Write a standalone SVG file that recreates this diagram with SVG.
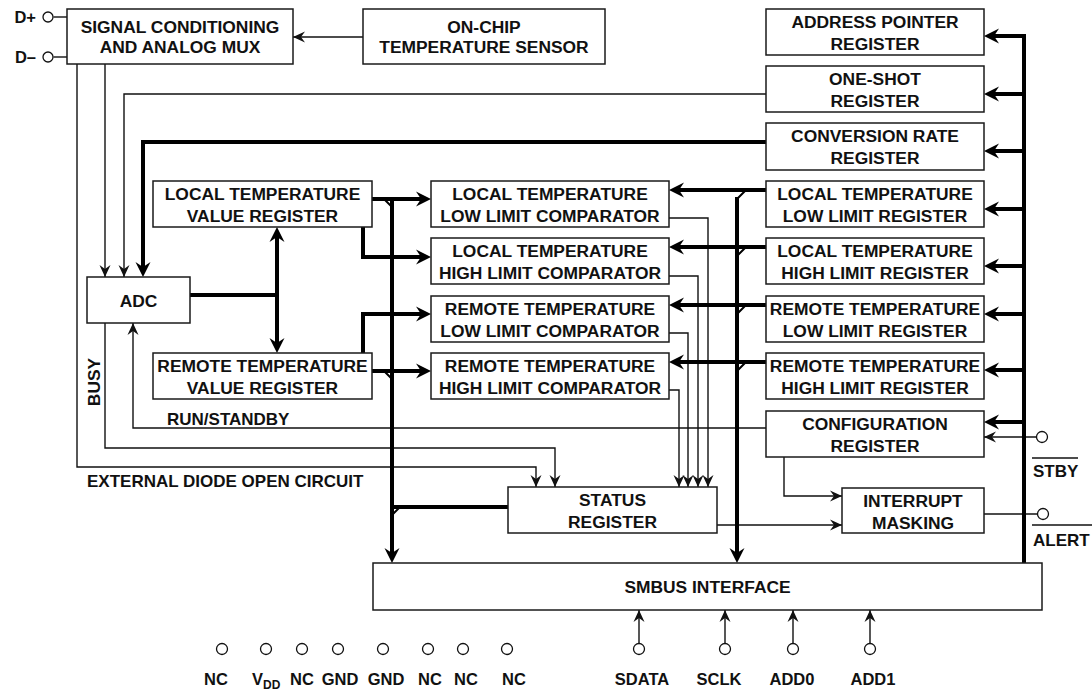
<svg xmlns="http://www.w3.org/2000/svg" width="1092" height="690" viewBox="0 0 1092 690">
<style>
.bx{fill:#fff;stroke:#1a1a1a;stroke-width:1.5}
.t{font-family:"Liberation Sans",Arial,Helvetica,sans-serif;font-weight:bold;font-size:17.4px;fill:#111;text-anchor:middle}
.lb{font-family:"Liberation Sans",Arial,Helvetica,sans-serif;font-weight:bold;font-size:16.5px;fill:#111}
.tn{fill:none;stroke:#111;stroke-width:1.4}
.tk{fill:none;stroke:#000;stroke-width:4}
.tc{fill:none;stroke:#000;stroke-width:2}
.pin{fill:#fff;stroke:#111;stroke-width:1.3}
.ov{stroke:#111;stroke-width:1.6}
</style>
<defs>
<marker id="aN" viewBox="-13 -7 14 14" refX="0" refY="0" markerWidth="14" markerHeight="14" markerUnits="userSpaceOnUse" orient="auto-start-reverse"><path d="M0,0 L-12,-5.5 L-8,0 L-12,5.5 Z" fill="#111"/></marker>
<marker id="aK" viewBox="-16 -8 17 16" refX="-6" refY="0" markerWidth="17" markerHeight="16" markerUnits="userSpaceOnUse" orient="auto-start-reverse"><path d="M0,0 L-15,-7.5 L-10,0 L-15,7.5 Z" fill="#000"/></marker>
</defs>

<g id="connectors">
<path class="tn" d="M363,37 H293" marker-end="url(#aN)"/>
<path class="tn" d="M53.5,17 H67"/>
<path class="tn" d="M53.5,57 H67"/>
<path class="tn" d="M77,64 V467 H536 V487" marker-end="url(#aN)"/>
<path class="tn" d="M105,64 V277" marker-end="url(#aN)"/>
<path class="tn" d="M766,94 H124 V277" marker-end="url(#aN)"/>
<path class="tn" d="M105,323 V448 H555 V487" marker-end="url(#aN)"/>
<path class="tn" d="M766,428 H133 V323" marker-end="url(#aN)"/>
<path class="tn" d="M669,218 H708 V487" marker-end="url(#aN)"/>
<path class="tn" d="M669,276 H698 V487" marker-end="url(#aN)"/>
<path class="tn" d="M669,333 H688 V487" marker-end="url(#aN)"/>
<path class="tn" d="M669,390 H679 V487" marker-end="url(#aN)"/>
<path class="tn" d="M784,457 V496 H842" marker-end="url(#aN)"/>
<path class="tn" d="M717,525 H842" marker-end="url(#aN)"/>
<path class="tn" d="M984,514 H1037.5"/>
<path class="tn" d="M1036.5,437 H984" marker-end="url(#aN)"/>
<path class="tn" d="M639,643.5 V610" marker-end="url(#aN)"/>
<path class="tn" d="M725,643.5 V610" marker-end="url(#aN)"/>
<path class="tn" d="M793,643.5 V610" marker-end="url(#aN)"/>
<path class="tn" d="M870,643.5 V610" marker-end="url(#aN)"/>
<path class="tk" d="M766,142 H143 V271" marker-end="url(#aK)"/>
<path class="tk" d="M190,295 H277"/>
<path class="tk" d="M277,233 V347" marker-start="url(#aK)" marker-end="url(#aK)"/>
<path class="tk" d="M372,199 H425" marker-end="url(#aK)"/>
<path class="tk" d="M363,227 V257 H425" marker-end="url(#aK)"/>
<path class="tk" d="M363,353 V314 H425" marker-end="url(#aK)"/>
<path class="tk" d="M372,371 H425" marker-end="url(#aK)"/>
<path class="tk" d="M392,199 V557" marker-end="url(#aK)"/>
<path class="tk" d="M392,507 H508"/>
<path class="tc" d="M384,199 L392,207 M384,371 L392,379 M392,515 L400,507"/>
<path class="tk" d="M737,197 V557" marker-end="url(#aK)"/>
<path class="tk" d="M766,190 H675" marker-end="url(#aK)"/>
<path class="tk" d="M766,247 H675" marker-end="url(#aK)"/>
<path class="tk" d="M766,305 H675" marker-end="url(#aK)"/>
<path class="tk" d="M766,362 H675" marker-end="url(#aK)"/>
<path class="tc" d="M746,190 L737,199 M746,247 L737,256 M746,305 L737,314 M746,362 L737,371"/>
<path class="tk" d="M1024,34 V563"/>
<path class="tk" d="M1024,36 H990" marker-end="url(#aK)"/>
<path class="tk" d="M1024,94 H990" marker-end="url(#aK)"/>
<path class="tk" d="M1024,151 H990" marker-end="url(#aK)"/>
<path class="tk" d="M1024,209 H990" marker-end="url(#aK)"/>
<path class="tk" d="M1024,266 H990" marker-end="url(#aK)"/>
<path class="tk" d="M1024,314 H990" marker-end="url(#aK)"/>
<path class="tk" d="M1024,370 H990" marker-end="url(#aK)"/>
<path class="tk" d="M1024,422 H990" marker-end="url(#aK)"/>
</g>

<g id="sig"><rect class="bx" x="67" y="9" width="226" height="55"/><text class="t" x="180" y="33">SIGNAL CONDITIONING</text><text class="t" x="180" y="53">AND ANALOG MUX</text></g>
<g id="onchip"><rect class="bx" x="363" y="9" width="242" height="55"/><text class="t" x="484" y="33">ON-CHIP</text><text class="t" x="484" y="53">TEMPERATURE SENSOR</text></g>
<g id="addr"><rect class="bx" x="766" y="9" width="218" height="46"/><text class="t" x="875" y="28">ADDRESS POINTER</text><text class="t" x="875" y="50">REGISTER</text></g>
<g id="oneshot"><rect class="bx" x="766" y="66" width="218" height="46"/><text class="t" x="875" y="85">ONE-SHOT</text><text class="t" x="875" y="107">REGISTER</text></g>
<g id="conv"><rect class="bx" x="766" y="123" width="218" height="47"/><text class="t" x="875" y="142">CONVERSION RATE</text><text class="t" x="875" y="164">REGISTER</text></g>
<g id="llr"><rect class="bx" x="766" y="181" width="218" height="46"/><text class="t" x="875" y="200">LOCAL TEMPERATURE</text><text class="t" x="875" y="222">LOW LIMIT REGISTER</text></g>
<g id="lhr"><rect class="bx" x="766" y="238" width="218" height="46"/><text class="t" x="875" y="257">LOCAL TEMPERATURE</text><text class="t" x="875" y="279">HIGH LIMIT REGISTER</text></g>
<g id="rlr"><rect class="bx" x="766" y="296" width="218" height="46"/><text class="t" x="875" y="315">REMOTE TEMPERATURE</text><text class="t" x="875" y="337">LOW LIMIT REGISTER</text></g>
<g id="rhr"><rect class="bx" x="766" y="353" width="218" height="46"/><text class="t" x="875" y="372">REMOTE TEMPERATURE</text><text class="t" x="875" y="394">HIGH LIMIT REGISTER</text></g>
<g id="cfg"><rect class="bx" x="766" y="411" width="218" height="46"/><text class="t" x="875" y="430">CONFIGURATION</text><text class="t" x="875" y="452">REGISTER</text></g>
<g id="lvr"><rect class="bx" x="153" y="181" width="219" height="46"/><text class="t" x="262.5" y="200">LOCAL TEMPERATURE</text><text class="t" x="262.5" y="222">VALUE REGISTER</text></g>
<g id="rvr"><rect class="bx" x="153" y="353" width="219" height="46"/><text class="t" x="262.5" y="372">REMOTE TEMPERATURE</text><text class="t" x="262.5" y="394">VALUE REGISTER</text></g>
<g id="adc"><rect class="bx" x="87" y="277" width="103" height="46"/><text class="t" x="138.5" y="307">ADC</text></g>
<g id="llc"><rect class="bx" x="431" y="181" width="238" height="46"/><text class="t" x="550" y="200">LOCAL TEMPERATURE</text><text class="t" x="550" y="222">LOW LIMIT COMPARATOR</text></g>
<g id="lhc"><rect class="bx" x="431" y="238" width="238" height="46"/><text class="t" x="550" y="257">LOCAL TEMPERATURE</text><text class="t" x="550" y="279">HIGH LIMIT COMPARATOR</text></g>
<g id="rlc"><rect class="bx" x="431" y="296" width="238" height="46"/><text class="t" x="550" y="315">REMOTE TEMPERATURE</text><text class="t" x="550" y="337">LOW LIMIT COMPARATOR</text></g>
<g id="rhc"><rect class="bx" x="431" y="353" width="238" height="46"/><text class="t" x="550" y="372">REMOTE TEMPERATURE</text><text class="t" x="550" y="394">HIGH LIMIT COMPARATOR</text></g>
<g id="status"><rect class="bx" x="508" y="487" width="209" height="46"/><text class="t" x="612.5" y="506">STATUS</text><text class="t" x="612.5" y="528">REGISTER</text></g>
<g id="intmask"><rect class="bx" x="842" y="488" width="142" height="45"/><text class="t" x="913" y="507">INTERRUPT</text><text class="t" x="913" y="529">MASKING</text></g>
<g id="smbus"><rect class="bx" x="373" y="563" width="669" height="47"/><text class="t" x="707.5" y="593">SMBUS INTERFACE</text></g>

<g id="labels">
<text class="t" x="94" y="382" transform="rotate(-90 94 382)" dy="6">BUSY</text>
<text class="lb" x="167" y="425" style="font-size:17px">RUN/STANDBY</text>
<text class="lb" x="87" y="487" style="font-size:17px">EXTERNAL DIODE OPEN CIRCUIT</text>
</g>

<g id="pin-dplus"><circle class="pin" cx="48" cy="17" r="5"/><text class="lb" x="36" y="23" text-anchor="end" style="font-size:16.5px">D+</text></g>
<g id="pin-dminus"><circle class="pin" cx="48" cy="57" r="5"/><text class="lb" x="36" y="63" text-anchor="end" style="font-size:16.5px">D–</text></g>
<g id="pin-stby"><circle class="pin" cx="1042" cy="437" r="5.5"/><line class="ov" x1="1032" y1="458" x2="1078" y2="458"/><text class="lb" x="1033" y="477" style="font-size:17px">STBY</text></g>
<g id="pin-alert"><circle class="pin" cx="1043" cy="514" r="5.5"/><line class="ov" x1="1032" y1="525" x2="1092" y2="525"/><text class="lb" x="1033" y="546" style="font-size:17px">ALERT</text></g>

<g id="pins-bottom">
<circle class="pin" cx="222" cy="649" r="5.5"/><text class="lb" x="216" y="685" text-anchor="middle">NC</text>
<circle class="pin" cx="266" cy="649" r="5.5"/><text class="lb" x="252" y="685">V<tspan style="font-size:12px" dy="4">DD</tspan></text>
<circle class="pin" cx="302" cy="649" r="5.5"/><text class="lb" x="302" y="685" text-anchor="middle">NC</text>
<circle class="pin" cx="338" cy="649" r="5.5"/><text class="lb" x="340" y="685" text-anchor="middle">GND</text>
<circle class="pin" cx="383" cy="649" r="5.5"/><text class="lb" x="386" y="685" text-anchor="middle">GND</text>
<circle class="pin" cx="428" cy="649" r="5.5"/><text class="lb" x="430" y="685" text-anchor="middle">NC</text>
<circle class="pin" cx="463" cy="649" r="5.5"/><text class="lb" x="466" y="685" text-anchor="middle">NC</text>
<circle class="pin" cx="507" cy="649" r="5.5"/><text class="lb" x="514" y="685" text-anchor="middle">NC</text>
<circle class="pin" cx="639" cy="649" r="5.5"/><text class="lb" x="642" y="685" text-anchor="middle">SDATA</text>
<circle class="pin" cx="725" cy="649" r="5.5"/><text class="lb" x="719" y="685" text-anchor="middle">SCLK</text>
<circle class="pin" cx="793" cy="649" r="5.5"/><text class="lb" x="792" y="685" text-anchor="middle">ADD0</text>
<circle class="pin" cx="870" cy="649" r="5.5"/><text class="lb" x="873" y="685" text-anchor="middle">ADD1</text>
</g>
</svg>
